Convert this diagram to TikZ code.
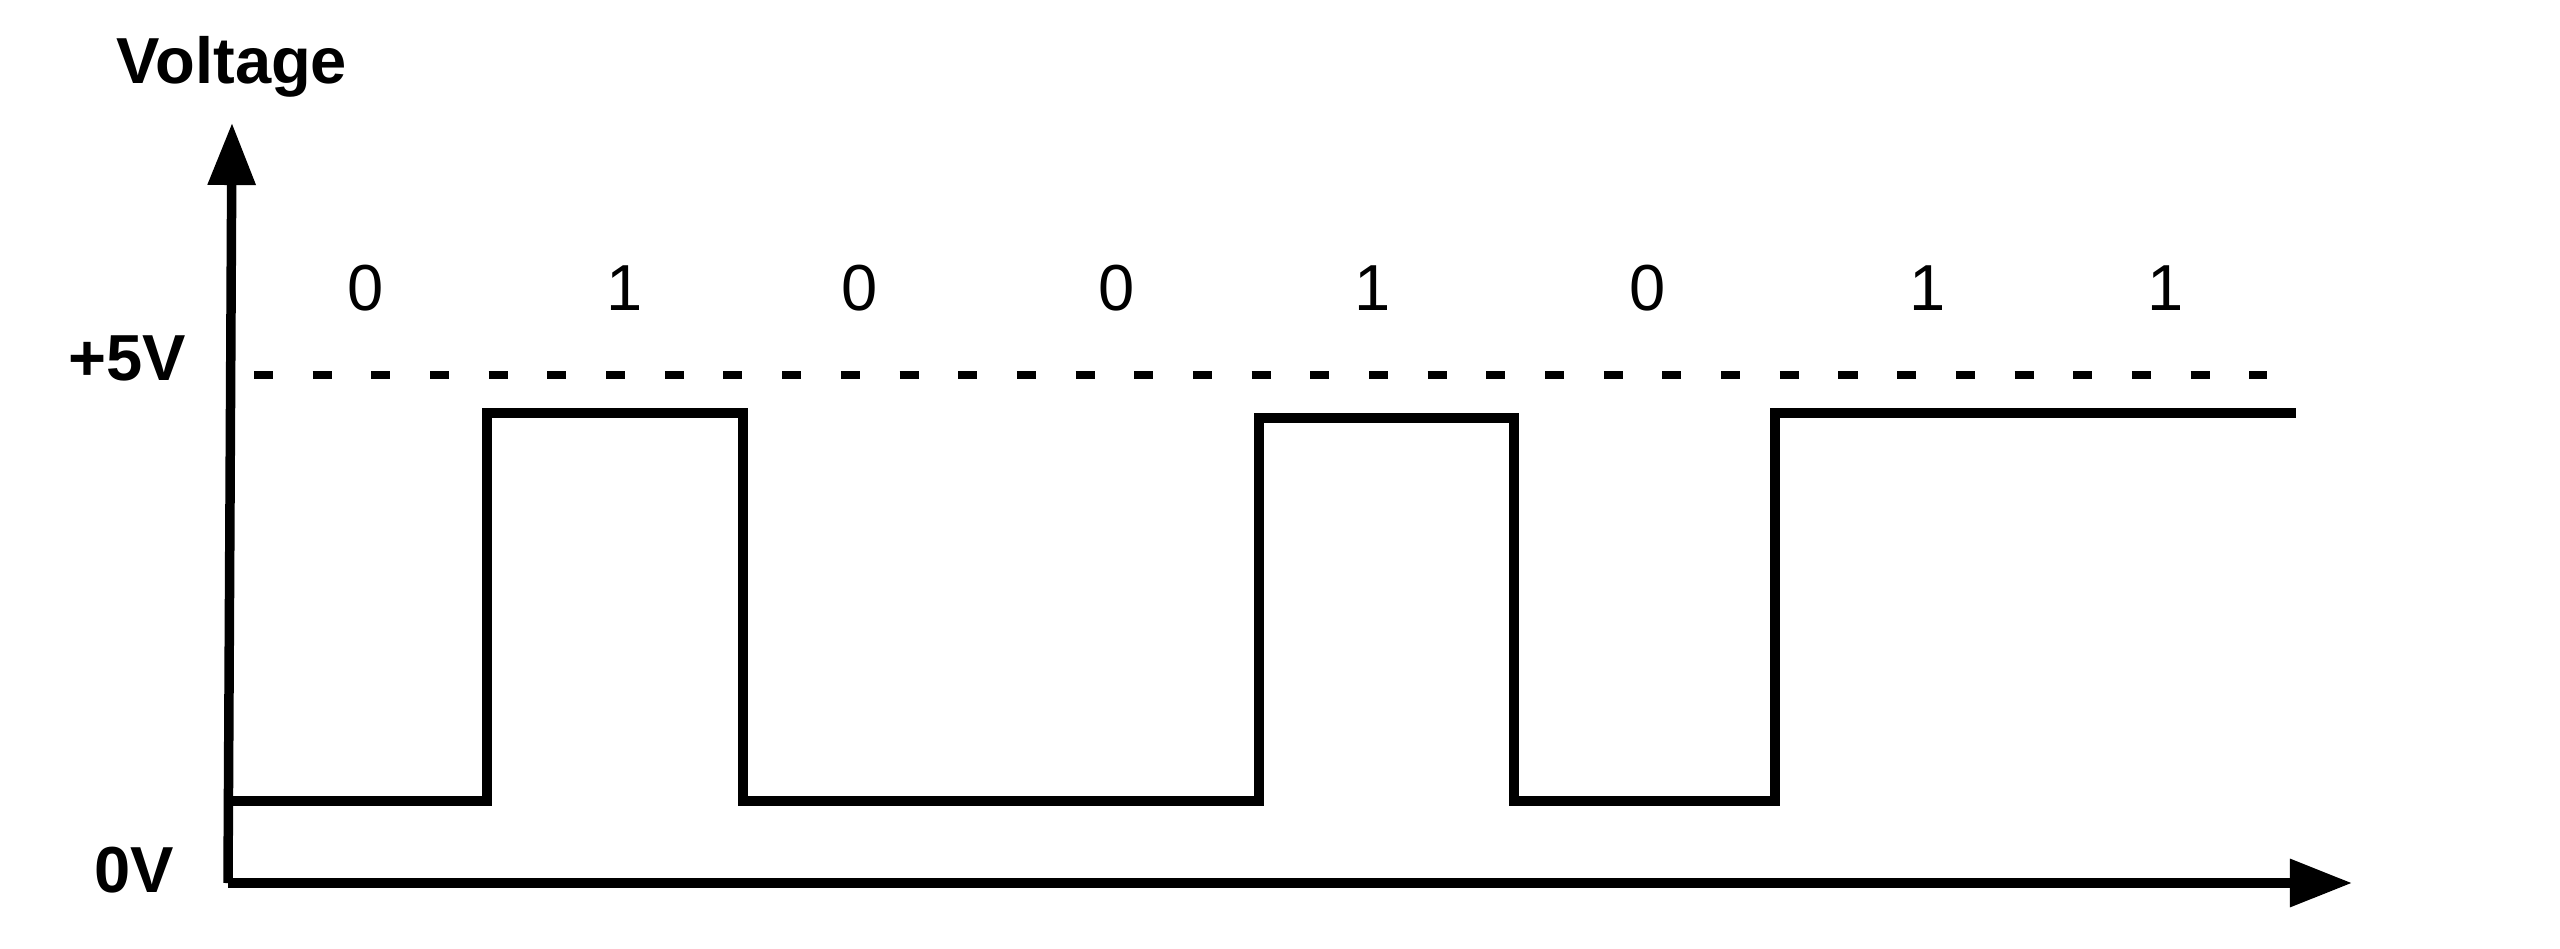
\documentclass[tikz,border=0pt]{standalone}
\usepackage{fontspec}
\setmainfont{Liberation Sans}
\usetikzlibrary{arrows.meta}

\begin{document}
\begin{tikzpicture}[x=0.01cm, y=-0.01cm,
        signal/.style={line width=2.65pt},
        axis/.style={line width=2.7pt, -{Triangle[length=6.2mm, width=4.6mm]}},
        level/.style={font=\fontsize{18.5}{22}\selectfont\bfseries, inner sep=0pt},
        bit/.style={font=\fontsize{18.5}{22}\selectfont, inner sep=0pt, anchor=base}]
            \useasboundingbox (0,0) rectangle (2560,948);
            \coordinate (origin) at (228,883);
            \coordinate (ytop) at (232,123);
            \coordinate (xend) at (2352,883);
            \draw[axis] (origin) -- (ytop);
            \draw[axis] (origin) -- (xend);
            \node[level, anchor=base] (ylabel) at (232,83) {Voltage};
            \node[level, anchor=base east] (high) at (187,380) {+5V};
            \node[level, anchor=base east] (low) at (175,892) {0V};
            \draw[line width=2.05pt, dash pattern=on 0.19cm off 0.3965cm] (254,375) -- (2267,375);
            \foreach \x/\b in {366/0, 625/1, 860/0, 1117/0, 1373/1, 1648/0, 1928/1, 2166/1}{
                \node[bit] (bit\x) at (\x,310) {\b};
            }
            \draw[signal] (232,801) -- (487,801) -- (487,413) -- (743,413) -- (743,801)
                -- (1259,801) -- (1259,418) -- (1514,418) -- (1514,801)
                -- (1775,801) -- (1775,413) -- (2296,413);
        \end{tikzpicture}
\end{document}
